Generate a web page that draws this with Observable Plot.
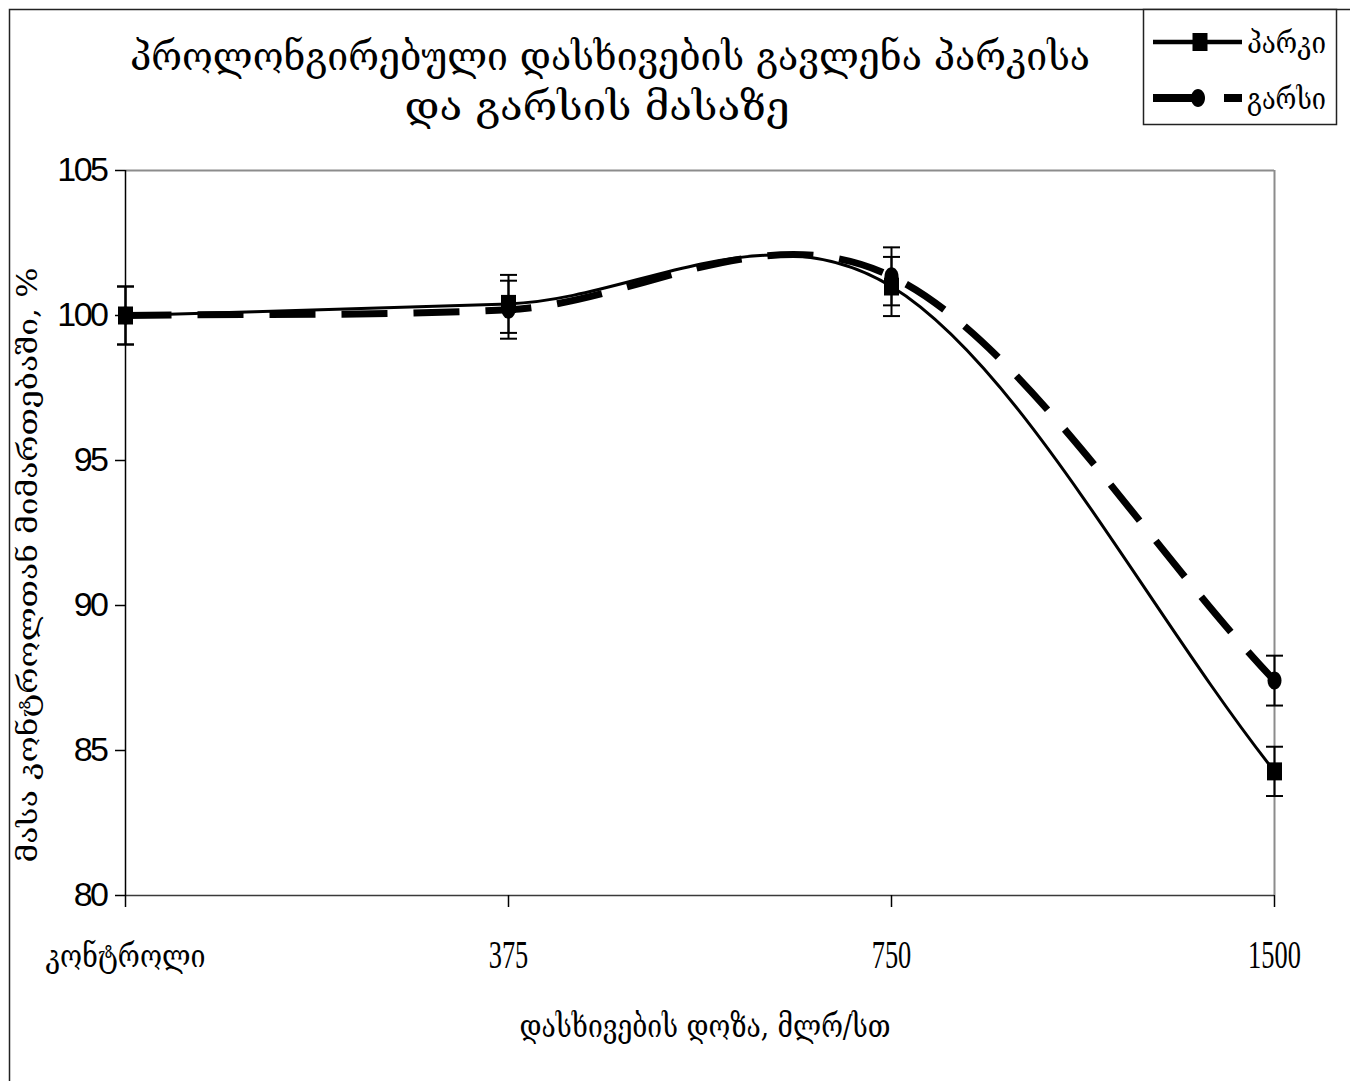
<!DOCTYPE html>
<html>
<head>
<meta charset="utf-8">
<script src="https://cdn.jsdelivr.net/npm/d3@7"></script>
<script src="https://cdn.jsdelivr.net/npm/@observablehq/plot@0.6"></script>
<style>
  html, body { margin: 0; padding: 0; background: #fff; }
  #chart { width: 1350px; height: 1081px; overflow: hidden; }
</style>
</head>
<body>
<div id="chart"></div>
<script>
// ---- data ----
const titleLines = ["პროლონგირებული დასხივების გავლენა პარკისა", "და გარსის მასაზე"];
const doses = ["კონტროლი", "375", "750", "1500"];
const seriesNames = ["პარკი", "გარსი"];
const cocoonMass = [100.0, 100.4, 101.0, 84.28];
const cocoonErr  = [1.0, 1.0, 1.02, 0.85];
const shellMass  = [100.0, 100.2, 101.35, 87.41];
const shellErr   = [1.0, 1.0, 1.0, 0.86];
const yTicks = [80, 85, 90, 95, 100, 105];
const yDomain = [80, 105];
const yLabel = "მასა კონტროლთან მიმართებაში, %";
const xLabel = "დასხივების დოზა, მლრ/სთ";

const cocoon = doses.map((d, i) => ({dose: d, mass: cocoonMass[i], err: cocoonErr[i], series: seriesNames[0]}));
const shell  = doses.map((d, i) => ({dose: d, mass: shellMass[i],  err: shellErr[i],  series: seriesNames[1]}));
const allData = [...shell, ...cocoon];

// spreadsheet-style smoothed curve (Bezier, 1/6 tension, clamped, end tangents = 1/3 chord)
function smoothCurve(context) {
  let pts = [];
  const dist = (a, b) => Math.hypot(b[0] - a[0], b[1] - a[1]);
  function ctrl(a, b, seg) {
    let vx = (b[0] - a[0]) / 6, vy = (b[1] - a[1]) / 6;
    const L = Math.hypot(vx, vy);
    if (L > seg / 2) { vx *= seg / 2 / L; vy *= seg / 2 / L; }
    return [vx, vy];
  }
  return {
    areaStart() {}, areaEnd() {},
    lineStart() { pts = []; },
    point(x, y) { pts.push([+x, +y]); },
    lineEnd() {
      const n = pts.length;
      if (!n) return;
      context.moveTo(pts[0][0], pts[0][1]);
      if (n === 2) context.lineTo(pts[1][0], pts[1][1]);
      for (let i = 0; n > 2 && i < n - 1; i++) {
        const p1 = pts[i], p2 = pts[i + 1];
        const seg = dist(p1, p2);
        const v1 = i > 0 ? ctrl(pts[i - 1], p2, seg) : [(p2[0] - p1[0]) / 3, (p2[1] - p1[1]) / 3];
        const v2 = i < n - 2 ? ctrl(p1, pts[i + 2], seg) : [(p2[0] - p1[0]) / 3, (p2[1] - p1[1]) / 3];
        context.bezierCurveTo(p1[0] + v1[0], p1[1] + v1[1], p2[0] - v2[0], p2[1] - v2[1], p2[0], p2[1]);
      }
    }
  };
}

// custom symbols
const capSymbol = {draw(ctx) { ctx.moveTo(-8.5, 0); ctx.lineTo(8.5, 0); }};
const squareSymbol = {draw(ctx) { ctx.rect(-7.5, -9, 15, 18); }};
const ellipseSymbol = {draw(ctx) {
  const rx = 7, ry = 9, k = 0.5523;
  ctx.moveTo(rx, 0);
  ctx.bezierCurveTo(rx, ry * k, rx * k, ry, 0, ry);
  ctx.bezierCurveTo(-rx * k, ry, -rx, ry * k, -rx, 0);
  ctx.bezierCurveTo(-rx, -ry * k, -rx * k, -ry, 0, -ry);
  ctx.bezierCurveTo(rx * k, -ry, rx, -ry * k, rx, 0);
  ctx.closePath();
}};

const geoFont = "'DejaVu Serif', 'DejaVu Sans', serif";

const chart = Plot.plot({
  width: 1350,
  height: 1081,
  marginLeft: 125,
  marginRight: 76,
  marginTop: 170,
  marginBottom: 186,
  style: {background: "#fff", color: "#000", overflow: "hidden"},
  x: {type: "point", domain: doses, padding: 0},
  y: {domain: yDomain},
  marks: [
    Plot.ruleY([yDomain[1]], {stroke: "#8c8c8c", strokeWidth: 2}),
    Plot.ruleX([doses[doses.length - 1]], {stroke: "#8c8c8c", strokeWidth: 2}),
    Plot.ruleY([yDomain[0]], {stroke: "#3a3a3a", strokeWidth: 1.5}),
    Plot.ruleX([doses[0]], {stroke: "#000", strokeWidth: 1.5}),
    Plot.axisY({ticks: yTicks, tickSize: 10, tickPadding: 9, label: null, strokeWidth: 1.5, strokeOpacity: 1}),
    Plot.axisX({tickSize: 12, tickPadding: 31, label: null, strokeWidth: 1.5, strokeOpacity: 1}),
    // error bars
    Plot.ruleX(allData, {x: "dose", y1: d => d.mass - d.err, y2: d => d.mass + d.err, stroke: "#000", strokeWidth: 2}),
    Plot.dot(allData, {x: "dose", y: d => d.mass - d.err, symbol: capSymbol, r: 1, stroke: "#000", strokeWidth: 2, fill: "none"}),
    Plot.dot(allData, {x: "dose", y: d => d.mass + d.err, symbol: capSymbol, r: 1, stroke: "#000", strokeWidth: 2, fill: "none"}),
    // series
    Plot.line(shell, {x: "dose", y: "mass", curve: smoothCurve, stroke: "#000", strokeWidth: 7, strokeDasharray: "46,26", strokeLinecap: "butt"}),
    Plot.line(cocoon, {x: "dose", y: "mass", curve: smoothCurve, stroke: "#000", strokeWidth: 3}),
    Plot.dot(cocoon, {x: "dose", y: "mass", symbol: squareSymbol, r: 1, fill: "#000", stroke: "none"}),
    Plot.dot(shell, {x: "dose", y: "mass", symbol: ellipseSymbol, r: 1, fill: "#000", stroke: "none"})
  ]
});

const svg = d3.select(chart);

// y tick labels: Arial-like, tight
svg.selectAll('[aria-label="y-axis tick label"] text')
  .attr("font-family", "'Liberation Sans', Arial, sans-serif")
  .attr("font-size", 34)
  .attr("letter-spacing", "-2.5px");

// x tick labels: condensed serif
svg.selectAll('[aria-label="x-axis tick label"] text').each(function() {
  const t = d3.select(this);
  const s = t.text();
  if (/^\d+$/.test(s)) {
    t.attr("font-family", "'Liberation Serif', 'Times New Roman', serif").attr("font-size", 41)
     .attr("textLength", s.length * 13.2).attr("lengthAdjust", "spacingAndGlyphs");
  } else {
    t.attr("font-family", geoFont).attr("font-size", 31)
     .attr("textLength", 160).attr("lengthAdjust", "spacingAndGlyphs")
     .attr("dy", 6);
  }
});

// outer border (left & top edges visible)
svg.append("path").attr("d", "M9.5,1081V9.5H1350").attr("fill", "none").attr("stroke", "#222").attr("stroke-width", 1.5);

// title
titleLines.forEach((line, i) => {
  svg.append("text")
    .attr("x", i === 0 ? 610 : 597)
    .attr("y", i === 0 ? 70 : 120)
    .attr("text-anchor", "middle")
    .attr("font-family", geoFont)
    .attr("font-size", 40)
    .attr("textLength", i === 0 ? 960 : 385)
    .attr("lengthAdjust", "spacingAndGlyphs")
    .text(line);
});

// y label
svg.append("text")
  .attr("transform", "translate(37,565) rotate(-90)")
  .attr("text-anchor", "middle")
  .attr("font-family", geoFont)
  .attr("font-size", 27)
  .attr("textLength", 595)
  .attr("lengthAdjust", "spacingAndGlyphs")
  .text(yLabel);

// x label
svg.append("text")
  .attr("x", 705)
  .attr("y", 1037)
  .attr("text-anchor", "middle")
  .attr("font-family", geoFont)
  .attr("font-size", 31)
  .attr("textLength", 371)
  .attr("lengthAdjust", "spacingAndGlyphs")
  .text(xLabel);

// legend
const lg = svg.append("g");
lg.append("rect").attr("x", 1143.5).attr("y", 9.5).attr("width", 193).attr("height", 115)
  .attr("fill", "#fff").attr("stroke", "#222").attr("stroke-width", 1.5);
lg.append("line").attr("x1", 1153).attr("x2", 1242).attr("y1", 42).attr("y2", 42).attr("stroke", "#000").attr("stroke-width", 4.5);
lg.append("path").attr("transform", "translate(1200,42)").attr("d", d3.symbol(squareSymbol)()).attr("fill", "#000");
lg.append("line").attr("x1", 1153).attr("x2", 1198).attr("y1", 98).attr("y2", 98).attr("stroke", "#000").attr("stroke-width", 8);
lg.append("line").attr("x1", 1224).attr("x2", 1242).attr("y1", 98).attr("y2", 98).attr("stroke", "#000").attr("stroke-width", 8);
lg.append("path").attr("transform", "translate(1198,98)").attr("d", d3.symbol(ellipseSymbol)()).attr("fill", "#000");
seriesNames.forEach((name, i) => {
  lg.append("text")
    .attr("x", 1247).attr("y", i === 0 ? 53 : 109)
    .attr("text-anchor", "start")
    .attr("font-family", geoFont)
    .attr("font-size", 30)
    .attr("textLength", 79)
    .attr("lengthAdjust", "spacingAndGlyphs")
    .text(name);
});

document.getElementById("chart").appendChild(chart);
</script>
</body>
</html>
